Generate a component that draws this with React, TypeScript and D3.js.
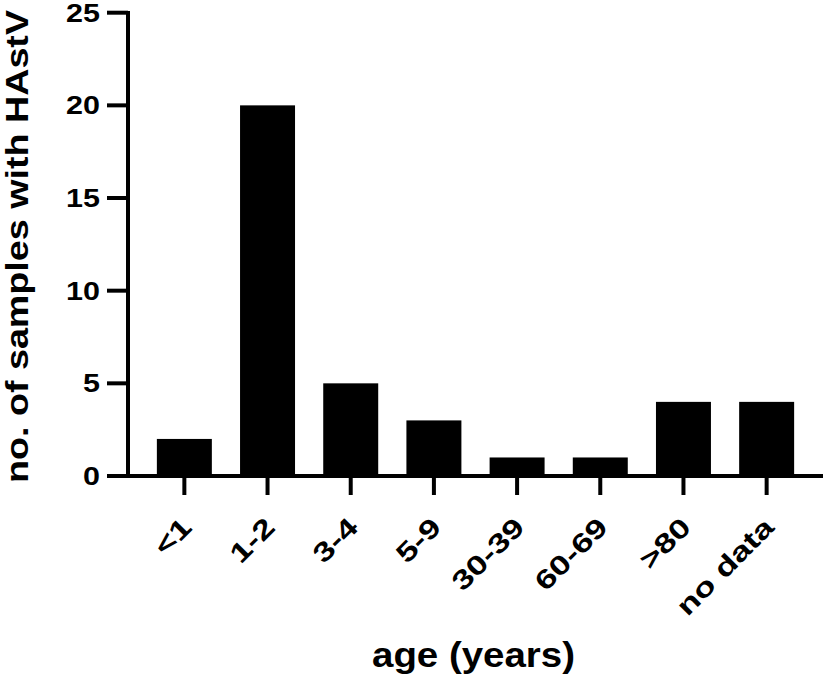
import React from "react";
import * as d3 from "d3";

const categories = ["<1", "1-2", "3-4", "5-9", "30-39", "60-69", ">80", "no data"];
const values = [2, 20, 5, 3, 1, 1, 4, 4];
const yTicks = [0, 5, 10, 15, 20, 25];
const yTitle = "no. of samples with HAstV";
const xTitle = "age (years)";

const W = 826;
const H = 679;
const FONT = "'Liberation Sans', Arial, sans-serif";

export default function App() {
  const x = d3
    .scaleBand<string>()
    .domain(categories)
    .range([128, 823])
    .paddingInner(0.339)
    .paddingOuter(0.347);
  const y = d3.scaleLinear().domain([0, 25]).range([476, 12.7]);

  const axisX = 128;
  const axisY = y(0);

  return (
    <svg
      width={W}
      height={H}
      style={{ position: "absolute", left: 0, top: 0, background: "#fff" }}
      fontFamily={FONT}
      fontWeight="bold"
    >
      {/* bars */}
      {categories.map((c, i) => (
        <rect
          key={c}
          x={x(c)}
          y={y(values[i])}
          width={x.bandwidth()}
          height={axisY - y(values[i])}
          fill="#000"
        />
      ))}
      {/* y axis */}
      <line x1={axisX} x2={axisX} y1={y(25) - 1.7} y2={axisY + 2} stroke="#000" strokeWidth={4} />
      {yTicks.map((t) => (
        <g key={t}>
          <line x1={107} x2={axisX} y1={y(t)} y2={y(t)} stroke="#000" strokeWidth={4} />
          <text
            transform={`translate(100,${y(t)}) scale(1.22,1)`}
            dy="0.36em"
            textAnchor="end"
            fontSize={25}
          >
            {t}
          </text>
        </g>
      ))}
      {/* x axis */}
      <line x1={107} x2={823} y1={axisY} y2={axisY} stroke="#000" strokeWidth={4} />
      {categories.map((c) => {
        const cx = (x(c) as number) + x.bandwidth() / 2;
        return (
          <g key={c}>
            <line x1={cx} x2={cx} y1={axisY} y2={axisY + 19} stroke="#000" strokeWidth={4} />
            <text
              transform={`translate(${cx + 9},${529}) rotate(-45) scale(1.3,1)`}
              textAnchor="end"
              fontSize={27}
            >
              {c}
            </text>
          </g>
        );
      })}
      {/* titles */}
      <text
        transform={`translate(28,246.5) rotate(-90)`}
        textAnchor="middle"
        fontSize={32}
        textLength={473}
        lengthAdjust="spacingAndGlyphs"
      >
        {yTitle}
      </text>
      <text
        x={473.5}
        y={667}
        textAnchor="middle"
        fontSize={35}
        textLength={203}
        lengthAdjust="spacingAndGlyphs"
      >
        {xTitle}
      </text>
    </svg>
  );
}
